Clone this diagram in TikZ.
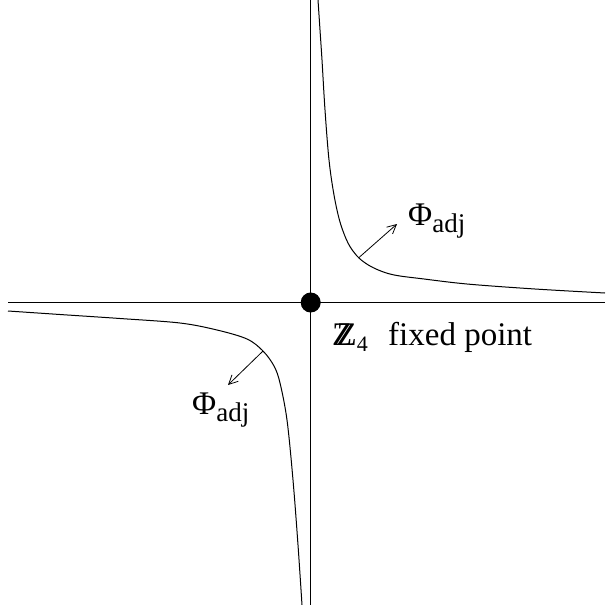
\documentclass[tikz,border=0pt]{standalone}
\usepackage{fontspec}
\setmainfont{Liberation Serif}
\usetikzlibrary{arrows.meta}
\newcommand{\dblZ}{\rlap{Z}\kern4.5pt Z}
\begin{document}
\begin{tikzpicture}[x=1pt,y=-1pt,
  axis/.style={line width=1.3pt},
  curve/.style={line width=1pt},
  vec/.style={line width=0.8pt,-{Straight Barb[length=9pt,width=9pt]}},
  lab/.style={inner sep=0pt,anchor=base west,font=\fontsize{33}{33}\selectfont},
  dot/.style={circle,fill=black,inner sep=0pt,minimum size=20pt}]
\useasboundingbox (0,0) rectangle (605,605);
% axes
\coordinate (top) at (310.7,0);
\coordinate (bot) at (310.7,605);
\coordinate (lft) at (8,302.5);
\coordinate (rgt) at (605,302.5);
\draw[axis] (top) -- (bot);
\draw[axis] (lft) -- (rgt);
\node[dot] (fp) at (310.7,302.5) {};
% hyperbola branches
\draw[curve] plot[smooth,tension=0.55] coordinates {(318,0) (320,30) (322,60) (325,110) (329,160) (334,195) (340,222) (348,243) (357,256) (366,263.5) (376,269) (388,273.5) (400,276) (420,278.5) (467,284) (535,289) (605,293)};
\draw[curve] plot[smooth,tension=0.55] coordinates {(8,311) (60,314.5) (120,318.5) (180,323) (217,330) (247,339) (263,351) (274,366) (280,383) (287,420) (293,480) (298,545) (302,605)};
% arrows
\coordinate (a1) at (359,257.5);
\coordinate (a1t) at (397,224);
\coordinate (a2) at (263,351);
\coordinate (a2t) at (228,385);
\draw[vec] (a1) -- (a1t);
\draw[vec] (a2) -- (a2t);
% labels
\node[lab] (phi1) at (408,225) {Φ\raisebox{-7pt}{\fontsize{27}{27}\selectfont adj}};
\node[lab] (phi2) at (192,414) {Φ\raisebox{-7pt}{\fontsize{27}{27}\selectfont adj}};
\node[lab] (z4) at (332,345) {\dblZ\raisebox{-6pt}{\fontsize{22}{22}\selectfont 4}};
\node[lab] (fx) at (388,345) {fixed point};
\end{tikzpicture}
\end{document}
